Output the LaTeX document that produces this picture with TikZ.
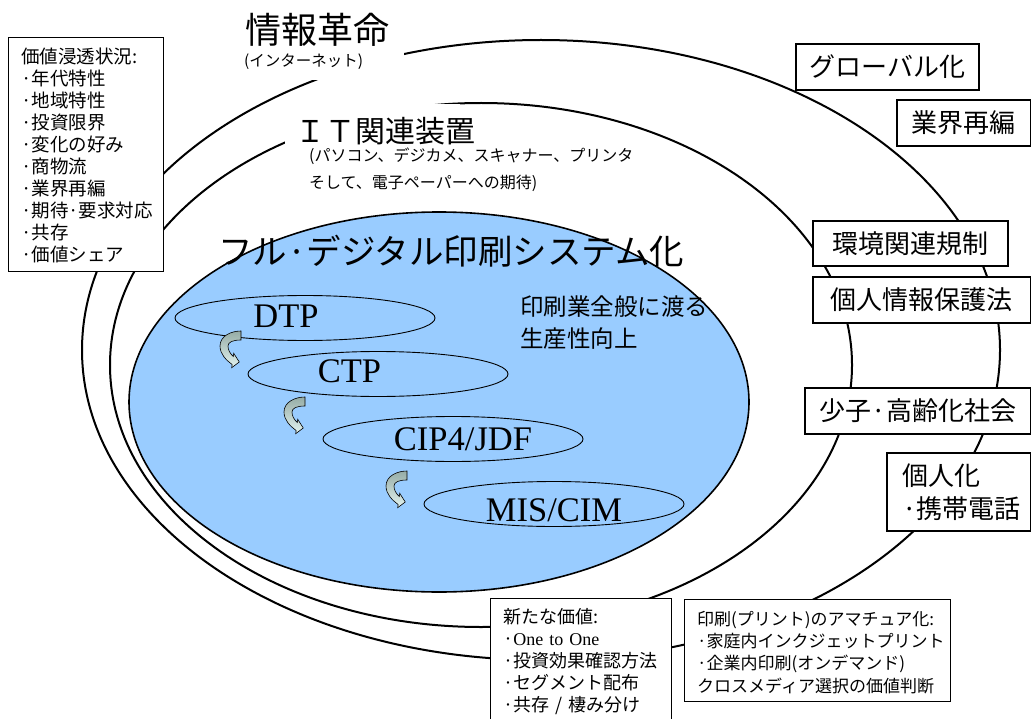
\documentclass[tikz,border=0pt]{standalone}
\usepackage{fontspec}
\setmainfont{Noto Sans CJK JP}
\newfontfamily\tms{Liberation Serif}
\usetikzlibrary{shapes.geometric}
\definecolor{skyfill}{RGB}{153,204,255}
\definecolor{arrtop}{RGB}{150,172,166}
\definecolor{arrbot}{RGB}{226,243,240}
\newcommand{\myfs}[2]{\fontsize{#1}{#2}\selectfont}
\tikzset{
 ring/.style={draw=black, line width=2pt},
 core/.style={draw=black, line width=1.6pt, fill=skyfill},
 mask/.style={fill=white},
 tech/.style={ellipse, draw=black, line width=0.9pt, minimum width=260pt, minimum height=45pt, inner sep=0pt},
 techtext/.style={font=\tms\myfs{34.5}{40}, anchor=base, inner sep=0pt},
 heading/.style={anchor=base west, inner sep=0pt, align=left},
 factor/.style={draw=black, line width=1.1pt, fill=white, font=\myfs{26}{30}, inner sep=0pt},
 panel/.style={draw=black, line width=1.1pt, fill=white, anchor=north west, inner sep=0pt},
 listtext/.style={font=\myfs{18}{22}, anchor=base west, inner sep=0pt, align=left, text width=#1},
 turnarrow/.pic={
  \shade[top color=arrtop, bottom color=arrbot, draw=black, line width=0.6pt]
  (0,0) .. controls (-10,0) and (-21,5) .. (-21,15)
  .. controls (-21,23) and (-15,29) .. (-8.9,33.5)
  -- (-9.3,36.7) -- (-1.7,31) -- (-7.3,22.3) -- (-7.7,25.5)
  .. controls (-11,22.5) and (-13,19) .. (-13,15)
  .. controls (-13,11) and (-8,9) .. (0,9) -- cycle;
 }
}
\begin{document}
\begin{tikzpicture}[x=1pt,y=-1pt]
\useasboundingbox (0,0) rectangle (1032,719);
\fill[white] (0,0) rectangle (1032,719);
% rings
\draw[ring] (541,350) ellipse [x radius=459pt, y radius=310pt];
\draw[ring] (481,365) ellipse [x radius=371pt, y radius=262pt];
\draw[core] (439,402) ellipse [x radius=310pt, y radius=190pt];
% technology steps
\node[tech] (dtp) at (305,318) {};
\node[techtext] (dtpt) at (286,327) {DTP};
\node[tech] (ctp) at (378,374) {};
\node[techtext] (ctpt) at (349.5,382) {CTP};
\node[tech] (cip) at (453,439) {};
\node[techtext] (cipt) at (463,450) {CIP4/JDF};
\node[tech] (mis) at (554,504) {};
\node[techtext] (mist) at (554,521) {MIS/CIM};
\pic (arr1) at (241,331) {turnarrow};
\pic (arr2) at (305,397) {turnarrow};
\pic (arr3) at (407,471) {turnarrow};
% backgrounds of the ring titles
\fill[mask] (240,8) rectangle (404,80);
\fill[mask] (285,103.6) rectangle (460,150);
% titles
\node[heading, font=\myfs{36}{40}] (info) at (245,44) {情報革命};
\node[heading, font=\myfs{15.5}{18}] (infosub) at (244,66.5) {(インターネット)};
\node[heading, font=\myfs{30}{34}] (it) at (295,143) {ＩＴ関連装置};
\node[heading, text width=340pt, font=\myfs{16}{27}] (itsub) at (309,162) {(パソコン、デジカメ、スキャナー、プリンタ\\そして、電子ペーパーへの期待)};
\node[heading, font=\myfs{34.5}{40}] (full) at (218,264) {フル·デジタル印刷システム化};
\node[heading, text width=220pt, font=\myfs{23.5}{32}] (prod) at (520,315) {印刷業全般に渡る\\生産性向上};
% left panel
\node[panel, minimum width=155pt, minimum height=234pt] (valbox) at (8,37) {};
\node[listtext=140pt, font=\myfs{18.5}{22}] (valtext) at (21,63.5) {価値浸透状況:\\·年代特性\\·地域特性\\·投資限界\\·変化の好み\\·商物流\\·業界再編\\·期待·要求対応\\·共存\\·価値シェア};
% right factors
\node[factor, minimum width=183pt, minimum height=46pt] (glob) at (887.5,67) {グローバル化};
\node[factor, minimum width=133.5pt, minimum height=46pt] (reorg) at (963.75,123) {業界再編};
\node[factor, minimum width=195pt, minimum height=45pt] (env) at (910.5,243.5) {環境関連規制};
\node[factor, minimum width=217.5pt, minimum height=46pt] (priv) at (921.75,300) {個人情報保護法};
\node[factor, minimum width=225.5pt, minimum height=46pt] (aging) at (917.75,411) {少子·高齢化社会};
\node[factor, inner xsep=15pt, text width=113.5pt, align=left, minimum height=78pt, font=\myfs{26}{33}] (pers) at (958.75,492) {個人化\\·携帯電話};
% bottom panels
\node[panel, minimum width=181pt, minimum height=150pt] (newbox) at (490,598) {};
\node[listtext=165pt] (newtext) at (503,623) {新たな価値:\\·{\tms One to One}\\·投資効果確認方法\\·セグメント配布\\·共存 / 棲み分け};
\node[panel, minimum width=266pt, minimum height=102pt] (amabox) at (684,599) {};
\node[listtext=250pt, font=\myfs{17}{22.2}] (amatext) at (697,625.5) {印刷(プリント)のアマチュア化:\\·家庭内インクジェットプリント\\·企業内印刷(オンデマンド)\\クロスメディア選択の価値判断};
\end{tikzpicture}
\end{document}
